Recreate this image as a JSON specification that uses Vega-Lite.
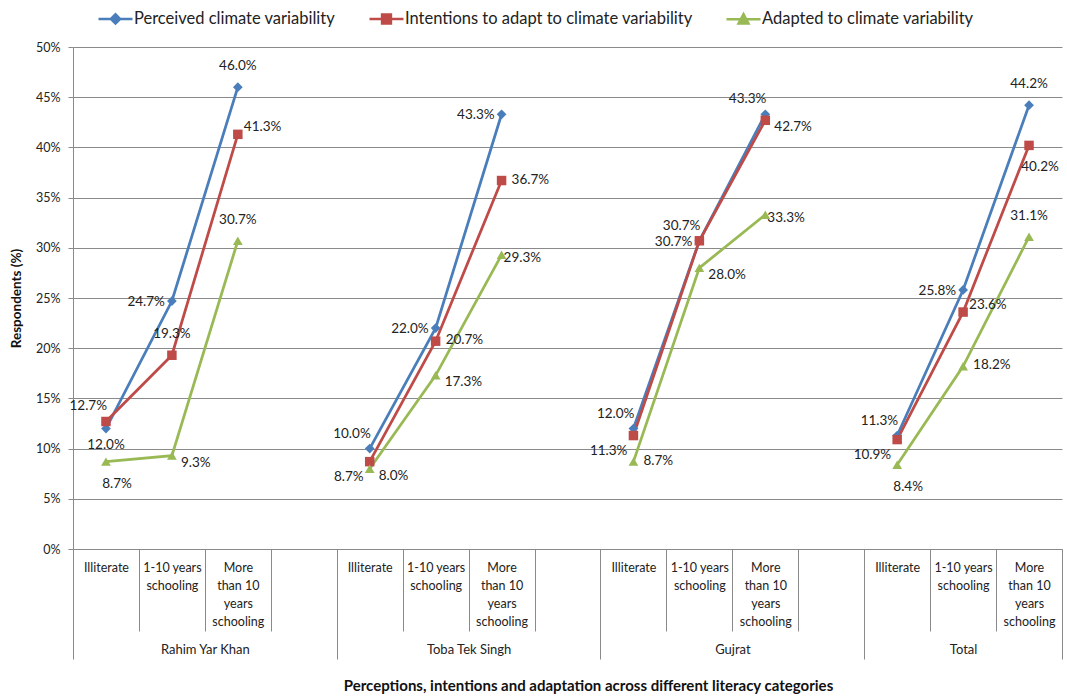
{
  "$schema": "https://vega.github.io/schema/vega-lite/v6.json",
  "width": 989,
  "height": 502,
  "autosize": {"type": "none"},
  "padding": {"left": 73, "top": 47, "right": 5, "bottom": 147},
  "background": "white",
  "config": {
    "font": "Lato",
    "view": {"stroke": null},
    "axis": {"labelFont": "Lato", "titleFont": "Lato", "labelColor": "#222222", "titleColor": "#111111"}
  },
  "data": {
    "values": [
      {"district": "Rahim Yar Khan", "literacy": "Illiterate", "series": "Perceived climate variability", "value": 0.12},
      {"district": "Rahim Yar Khan", "literacy": "1-10 years schooling", "series": "Perceived climate variability", "value": 0.247},
      {"district": "Rahim Yar Khan", "literacy": "More than 10 years schooling", "series": "Perceived climate variability", "value": 0.46},
      {"district": "Rahim Yar Khan", "literacy": "Illiterate", "series": "Intentions to adapt to climate variability", "value": 0.127},
      {"district": "Rahim Yar Khan", "literacy": "1-10 years schooling", "series": "Intentions to adapt to climate variability", "value": 0.193},
      {"district": "Rahim Yar Khan", "literacy": "More than 10 years schooling", "series": "Intentions to adapt to climate variability", "value": 0.413},
      {"district": "Rahim Yar Khan", "literacy": "Illiterate", "series": "Adapted to climate variability", "value": 0.087},
      {"district": "Rahim Yar Khan", "literacy": "1-10 years schooling", "series": "Adapted to climate variability", "value": 0.093},
      {"district": "Rahim Yar Khan", "literacy": "More than 10 years schooling", "series": "Adapted to climate variability", "value": 0.307},
      {"district": "Toba Tek Singh", "literacy": "Illiterate", "series": "Perceived climate variability", "value": 0.10},
      {"district": "Toba Tek Singh", "literacy": "1-10 years schooling", "series": "Perceived climate variability", "value": 0.22},
      {"district": "Toba Tek Singh", "literacy": "More than 10 years schooling", "series": "Perceived climate variability", "value": 0.433},
      {"district": "Toba Tek Singh", "literacy": "Illiterate", "series": "Intentions to adapt to climate variability", "value": 0.087},
      {"district": "Toba Tek Singh", "literacy": "1-10 years schooling", "series": "Intentions to adapt to climate variability", "value": 0.207},
      {"district": "Toba Tek Singh", "literacy": "More than 10 years schooling", "series": "Intentions to adapt to climate variability", "value": 0.367},
      {"district": "Toba Tek Singh", "literacy": "Illiterate", "series": "Adapted to climate variability", "value": 0.08},
      {"district": "Toba Tek Singh", "literacy": "1-10 years schooling", "series": "Adapted to climate variability", "value": 0.173},
      {"district": "Toba Tek Singh", "literacy": "More than 10 years schooling", "series": "Adapted to climate variability", "value": 0.293},
      {"district": "Gujrat", "literacy": "Illiterate", "series": "Perceived climate variability", "value": 0.12},
      {"district": "Gujrat", "literacy": "1-10 years schooling", "series": "Perceived climate variability", "value": 0.307},
      {"district": "Gujrat", "literacy": "More than 10 years schooling", "series": "Perceived climate variability", "value": 0.433},
      {"district": "Gujrat", "literacy": "Illiterate", "series": "Intentions to adapt to climate variability", "value": 0.113},
      {"district": "Gujrat", "literacy": "1-10 years schooling", "series": "Intentions to adapt to climate variability", "value": 0.307},
      {"district": "Gujrat", "literacy": "More than 10 years schooling", "series": "Intentions to adapt to climate variability", "value": 0.427},
      {"district": "Gujrat", "literacy": "Illiterate", "series": "Adapted to climate variability", "value": 0.087},
      {"district": "Gujrat", "literacy": "1-10 years schooling", "series": "Adapted to climate variability", "value": 0.28},
      {"district": "Gujrat", "literacy": "More than 10 years schooling", "series": "Adapted to climate variability", "value": 0.333},
      {"district": "Total", "literacy": "Illiterate", "series": "Perceived climate variability", "value": 0.113},
      {"district": "Total", "literacy": "1-10 years schooling", "series": "Perceived climate variability", "value": 0.258},
      {"district": "Total", "literacy": "More than 10 years schooling", "series": "Perceived climate variability", "value": 0.442},
      {"district": "Total", "literacy": "Illiterate", "series": "Intentions to adapt to climate variability", "value": 0.109},
      {"district": "Total", "literacy": "1-10 years schooling", "series": "Intentions to adapt to climate variability", "value": 0.236},
      {"district": "Total", "literacy": "More than 10 years schooling", "series": "Intentions to adapt to climate variability", "value": 0.402},
      {"district": "Total", "literacy": "Illiterate", "series": "Adapted to climate variability", "value": 0.084},
      {"district": "Total", "literacy": "1-10 years schooling", "series": "Adapted to climate variability", "value": 0.182},
      {"district": "Total", "literacy": "More than 10 years schooling", "series": "Adapted to climate variability", "value": 0.311}
    ]
  },
  "transform": [
    {"calculate": "indexof(['Rahim Yar Khan','Toba Tek Singh','Gujrat','Total'], datum.district) * 4 + indexof(['Illiterate','1-10 years schooling','More than 10 years schooling'], datum.literacy)", "as": "slot"},
    {"calculate": "substring(datum.series, 0, 1) + datum.slot", "as": "key"}
  ],
  "encoding": {
    "x": {"field": "slot", "type": "quantitative", "scale": {"domain": [-0.5, 14.5], "nice": false, "zero": false}, "axis": null},
    "y": {
      "field": "value", "type": "quantitative",
      "scale": {"domain": [0, 0.5], "nice": false},
      "axis": {
        "values": [0, 0.05, 0.1, 0.15, 0.2, 0.25, 0.3, 0.35, 0.4, 0.45, 0.5],
        "format": "%",
        "title": "Respondents (%)",
        "titleFontWeight": "bold", "titleFontSize": 13.5, "titlePadding": 12,
        "labelFontSize": 12.5, "labelPadding": 8,
        "tickSize": 5, "tickColor": "#8a8a8a",
        "domainColor": "#8a8a8a",
        "grid": true, "gridColor": "#8a8a8a", "gridWidth": 1
      }
    }
  },
  "layer": [
    {
      "mark": {"type": "line", "strokeWidth": 2.75},
      "encoding": {
        "x": {
          "field": "slot", "type": "quantitative", "scale": {"domain": [-0.5, 14.5], "nice": false, "zero": false},
          "axis": {
            "orient": "bottom", "title": null, "grid": false,
            "values": [0, 1, 2, 4, 5, 6, 8, 9, 10, 12, 13, 14],
            "labelExpr": "[['Illiterate'],['1-10 years','schooling'],['More','than 10','years','schooling'],['']][datum.value % 4]",
            "ticks": false, "domain": true, "domainColor": "#8a8a8a",
            "labelPadding": 12, "labelFontSize": 12.5, "labelLineHeight": 18, "labelBaseline": "top",
            "labelOverlap": false, "labelFlush": false, "labelBound": false
          }
        },
        "color": {
          "field": "series", "type": "nominal",
          "scale": {
            "domain": ["Perceived climate variability", "Intentions to adapt to climate variability", "Adapted to climate variability"],
            "range": ["#4A7EBB", "#BE4B48", "#98B954"]
          },
          "legend": {
            "orient": "none", "legendX": 24, "legendY": -47, "direction": "horizontal",
            "title": null, "labelFontSize": 16.5, "labelColor": "#222222", "labelFont": "Lato", "labelLimit": 0,
            "symbolSize": 1156, "symbolStrokeWidth": 2.5, "columnPadding": 28, "labelOffset": 0,
            "symbolType": "M-1,0H1",
            "encode": {
              "symbols": {
                "update": {
                  "shape": {"signal": "datum.value === 'Perceived climate variability' ? 'M-1,0H1M-0.27,0L0,-0.27L0.27,0L0,0.27Z' : datum.value === 'Intentions to adapt to climate variability' ? 'M-1,0H1M-0.26,-0.26H0.26V0.26H-0.26Z' : 'M-1,0H1M0,-0.29L0.29,0.25H-0.29Z'"},
                  "fill": {"scale": "color", "field": "value"},
                  "stroke": {"scale": "color", "field": "value"},
                  "opacity": {"value": 1}
                }
              }
            }
          }
        },
        "detail": {"field": "district"}
      }
    },
    {
      "transform": [{"filter": "datum.series === 'Perceived climate variability'"}],
      "mark": {"type": "point", "filled": true, "shape": "diamond", "size": 95, "opacity": 1, "color": "#4A7EBB"},
      "encoding": {
        "x": {
          "field": "slot", "type": "quantitative", "scale": {"domain": [-0.5, 14.5], "nice": false, "zero": false},
          "axis": {
            "orient": "bottom", "title": null, "grid": false, "labels": false, "domain": false,
            "values": [0.5, 1.5, 2.5, 4.5, 5.5, 6.5, 8.5, 9.5, 10.5, 12.5, 13.5],
            "ticks": true, "tickSize": 82, "tickColor": "#8a8a8a"
          }
        }
      }
    },
    {
      "transform": [{"filter": "datum.series === 'Intentions to adapt to climate variability'"}],
      "mark": {"type": "point", "filled": true, "shape": "square", "size": 90, "opacity": 1, "color": "#BE4B48"}
    },
    {
      "transform": [{"filter": "datum.series === 'Adapted to climate variability'"}],
      "mark": {"type": "point", "filled": true, "shape": "triangle-up", "size": 95, "opacity": 1, "color": "#98B954"}
    },
    {
      "transform": [{"filter": {"field": "key", "oneOf": ["P2", "A2", "P14", "A14", "I1"]}}],
      "mark": {"type": "text", "align": "center", "baseline": "middle", "dy": -21, "fontSize": 13.5, "color": "#222222"},
      "encoding": {
        "x": {
          "field": "slot", "type": "quantitative", "scale": {"domain": [-0.5, 14.5], "nice": false, "zero": false},
          "axis": {
            "orient": "bottom", "title": null, "grid": false, "labels": false, "domain": false,
            "values": [-0.5, 3.5, 7.5, 11.5, 14.5],
            "ticks": true, "tickSize": 110, "tickColor": "#8a8a8a"
          }
        },
        "text": {"field": "value", "type": "quantitative", "format": ".1%"}
      }
    },
    {
      "transform": [{"filter": {"field": "key", "oneOf": ["P0"]}}],
      "mark": {"type": "text", "align": "center", "baseline": "middle", "dy": 16, "fontSize": 13.5, "color": "#222222"},
      "encoding": {
        "x": {
          "field": "slot", "type": "quantitative", "scale": {"domain": [-0.5, 14.5], "nice": false, "zero": false},
          "axis": {
            "orient": "bottom", "grid": false, "ticks": false, "domain": false,
            "values": [1.5, 5.5, 9.5, 13],
            "labelExpr": "['Rahim Yar Khan','Toba Tek Singh','Gujrat','Total'][floor(datum.value / 4)]",
            "labelPadding": 94, "labelFontSize": 13, "labelBaseline": "top",
            "labelOverlap": false, "labelFlush": false, "labelBound": false,
            "title": "Perceptions, intentions and adaptation across different literacy categories",
            "titleFontWeight": "bold", "titleFontSize": 15,
            "titleX": 515, "titleY": 136, "titleBaseline": "middle", "titleAnchor": "middle", "titleAlign": "center"
          }
        },
        "text": {"field": "value", "type": "quantitative", "format": ".1%"}
      }
    },
    {
      "transform": [{"filter": {"field": "key", "oneOf": ["A0", "A12", "I14"]}}],
      "mark": {"type": "text", "align": "center", "baseline": "middle", "dx": 11, "dy": 22, "fontSize": 13.5, "color": "#222222"},
      "encoding": {"text": {"field": "value", "type": "quantitative", "format": ".1%"}}
    },
    {
      "transform": [{"filter": {"field": "key", "oneOf": ["A6", "A10"]}}],
      "mark": {"type": "text", "align": "left", "baseline": "middle", "dx": 2, "dy": 3, "fontSize": 13.5, "color": "#222222"},
      "encoding": {"text": {"field": "value", "type": "quantitative", "format": ".1%"}}
    },
    {
      "transform": [{"filter": {"field": "key", "oneOf": ["I5", "A13", "A8", "I6"]}}],
      "mark": {"type": "text", "align": "left", "baseline": "middle", "dx": 10, "dy": -1, "fontSize": 13.5, "color": "#222222"},
      "encoding": {"text": {"field": "value", "type": "quantitative", "format": ".1%"}}
    },
    {
      "transform": [{"filter": {"field": "key", "oneOf": ["A9", "A5", "I10", "A1", "A4"]}}],
      "mark": {"type": "text", "align": "left", "baseline": "middle", "dx": 9, "dy": 7, "fontSize": 13.5, "color": "#222222"},
      "encoding": {"text": {"field": "value", "type": "quantitative", "format": ".1%"}}
    },
    {
      "transform": [{"filter": {"field": "key", "oneOf": ["I2", "I13"]}}],
      "mark": {"type": "text", "align": "left", "baseline": "middle", "dx": 6, "dy": -7, "fontSize": 13.5, "color": "#222222"},
      "encoding": {"text": {"field": "value", "type": "quantitative", "format": ".1%"}}
    },
    {
      "transform": [{"filter": {"field": "key", "oneOf": ["P1", "P5", "P6", "I9", "P13"]}}],
      "mark": {"type": "text", "align": "right", "baseline": "middle", "dx": -7, "dy": 1, "fontSize": 13.5, "color": "#222222"},
      "encoding": {"text": {"field": "value", "type": "quantitative", "format": ".1%"}}
    },
    {
      "transform": [{"filter": {"field": "key", "oneOf": ["I0", "P4", "P8", "P9", "P12", "P10"]}}],
      "mark": {"type": "text", "align": "right", "baseline": "middle", "dx": 1, "dy": -15, "fontSize": 13.5, "color": "#222222"},
      "encoding": {"text": {"field": "value", "type": "quantitative", "format": ".1%"}}
    },
    {
      "transform": [{"filter": {"field": "key", "oneOf": ["I8", "I12", "I4"]}}],
      "mark": {"type": "text", "align": "right", "baseline": "middle", "dx": -6, "dy": 15, "fontSize": 13.5, "color": "#222222"},
      "encoding": {"text": {"field": "value", "type": "quantitative", "format": ".1%"}}
    }
  ],
  "resolve": {"axis": {"x": "independent"}}
}
